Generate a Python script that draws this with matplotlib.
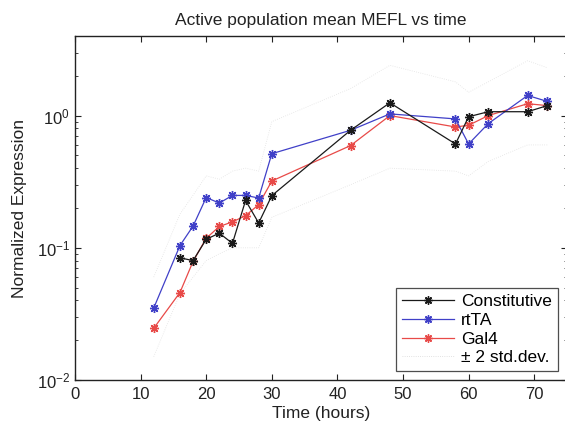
import matplotlib
matplotlib.use("Agg")
import matplotlib.pyplot as plt
from matplotlib.lines import Line2D

plt.rcParams['font.family'] = ['Liberation Sans', 'DejaVu Sans']

# Data
t_const = [16, 18, 20, 22, 24, 26, 28, 30, 42, 48, 58, 60, 63, 69, 72]
y_const = [0.084, 0.080, 0.116, 0.129, 0.108, 0.228, 0.154, 0.248, 0.774, 1.25, 0.61, 0.98, 1.07, 1.07, 1.19]

t_rtta = [12, 16, 18, 20, 22, 24, 26, 28, 30, 42, 48, 58, 60, 63, 69, 72]
y_rtta = [0.035, 0.104, 0.146, 0.240, 0.218, 0.249, 0.249, 0.238, 0.515, 0.774, 1.03, 0.944, 0.61, 0.87, 1.42, 1.28]

t_gal4 = [12, 16, 18, 20, 22, 24, 26, 28, 30, 42, 48, 58, 60, 63, 69, 72]
y_gal4 = [0.0246, 0.0459, 0.079, 0.118, 0.145, 0.157, 0.175, 0.212, 0.32, 0.593, 1.0, 0.82, 0.845, 1.0, 1.23, 1.19]

t_band = [12, 16, 18, 20, 22, 24, 26, 28, 30, 42, 48, 58, 60, 63, 69, 72]
y_upper = [0.06, 0.18, 0.25, 0.35, 0.33, 0.38, 0.40, 0.38, 0.90, 1.6, 2.4, 1.8, 1.5, 1.8, 2.6, 2.3]
y_lower = [0.015, 0.045, 0.06, 0.08, 0.09, 0.10, 0.10, 0.10, 0.17, 0.30, 0.40, 0.38, 0.35, 0.45, 0.60, 0.60]

labels = ['Constitutive', 'rtTA', 'Gal4', '\u00b1 2 std.dev.']
c_black = '#1a1a1a'
c_blue = '#4040c8'
c_red = '#e84a48'
ast = (8, 2, 0)

fig = plt.figure(figsize=(5.65, 4.24), dpi=100)
ax = fig.add_axes([75/565, 1-380/424, 492/565, (380-36)/424])

ax.plot(t_band, y_upper, linestyle=':', color='#c0c0c0', lw=0.6, alpha=0.45)
ax.plot(t_band, y_lower, linestyle=':', color='#c0c0c0', lw=0.6, alpha=0.45)

ax.plot(t_gal4, y_gal4, color=c_red, lw=0.9, marker=ast, ms=6.5, mew=1.0, mec=c_red)
ax.plot(t_rtta, y_rtta, color=c_blue, lw=0.9, marker=ast, ms=6.5, mew=1.0, mec=c_blue)
ax.plot(t_const, y_const, color=c_black, lw=0.9, marker=ast, ms=6.5, mew=1.0, mec=c_black)

ax.set_yscale('log')
ax.set_xlim(0, 75)
ax.set_ylim(0.01, 4.0)
ax.set_xticks([0, 10, 20, 30, 40, 50, 60, 70])
ax.tick_params(which='both', direction='in', top=True, right=True, labelsize=12, colors='#222222')
ax.tick_params(which='major', length=4)
ax.tick_params(which='minor', length=2)
ax.tick_params(axis='x', pad=5)
for s in ax.spines.values():
    s.set_linewidth(1.0)
    s.set_color('#222222')

ax.set_title('Active population mean MEFL vs time', fontsize=12.5, pad=8, color='#222222')
ax.set_xlabel('Time (hours)', fontsize=12.5, labelpad=3, color='#222222')
ax.set_ylabel('Normalized Expression', fontsize=12.5, labelpad=7, color='#222222')

handles = [
    Line2D([], [], color=c_black, lw=0.9, marker=ast, ms=6, mew=1.0),
    Line2D([], [], color=c_blue, lw=0.9, marker=ast, ms=6, mew=1.0),
    Line2D([], [], color=c_red, lw=0.9, marker=ast, ms=6, mew=1.0),
    Line2D([], [], color='#d8d8d8', lw=0.6, linestyle=':'),
]
leg = ax.legend(handles, labels, loc='lower right', bbox_to_anchor=(0.982, 0.025),
                fontsize=12.5, frameon=True, fancybox=False, borderpad=0.35,
                handlelength=3.0, labelspacing=0.2, handletextpad=0.4, borderaxespad=0)
leg.get_frame().set_edgecolor('#222222')
leg.get_frame().set_linewidth(0.9)

fig.savefig('out.png', dpi=100)
